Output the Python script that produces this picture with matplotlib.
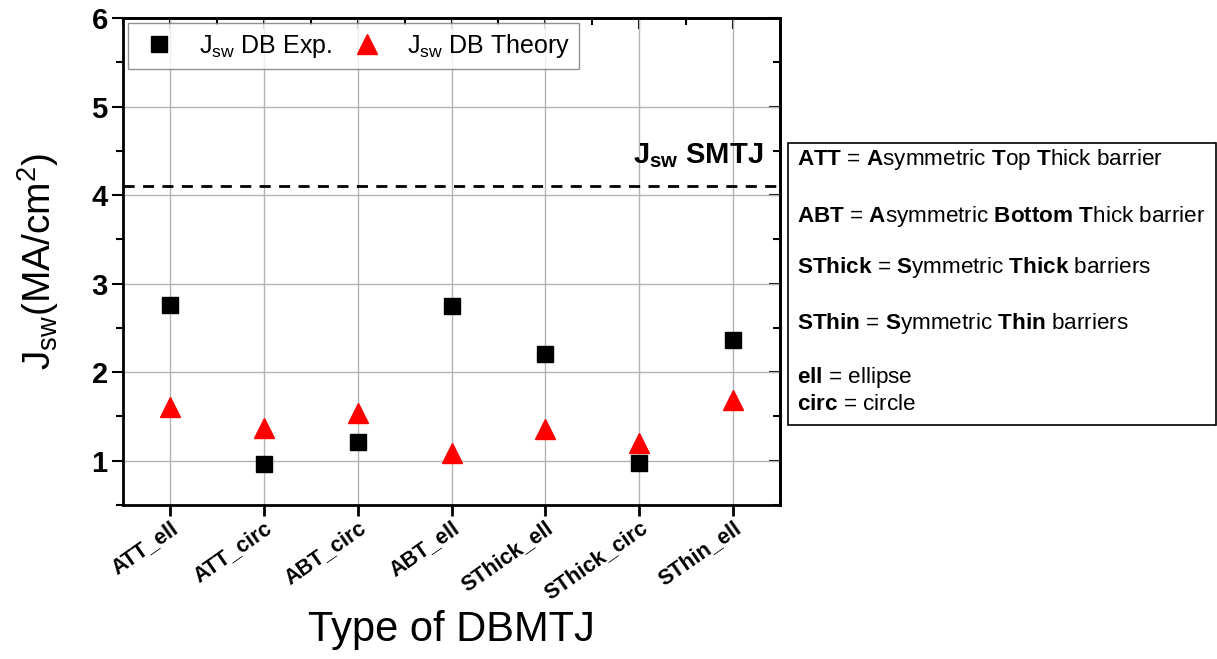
import matplotlib
matplotlib.use("Agg")
import matplotlib.pyplot as plt
from matplotlib.patches import Rectangle
from matplotlib.ticker import MultipleLocator

plt.rcParams['font.family'] = ['Liberation Sans', 'DejaVu Sans']
plt.rcParams['mathtext.fontset'] = 'custom'
plt.rcParams['mathtext.rm'] = 'Liberation Sans'
plt.rcParams['mathtext.it'] = 'Liberation Sans:italic'
plt.rcParams['mathtext.bf'] = 'Liberation Sans:bold'

# Data
types = ["ATT_ell", "ATT_circ", "ABT_circ", "ABT_ell", "SThick_ell", "SThick_circ", "SThin_ell"]
jsw_exp = [2.76, 0.96, 1.21, 2.75, 2.21, 0.97, 2.36]
jsw_theory = [1.61, 1.37, 1.54, 1.09, 1.36, 1.20, 1.69]
jsw_smtj = 4.1

x = list(range(1, len(types) + 1))

fig = plt.figure(figsize=(12.17, 6.59), dpi=100)
ax = fig.add_axes([123 / 1217, 1 - 505 / 659, 657 / 1217, 487 / 659])

ax.plot(x, jsw_exp, 's', color='black', markersize=11, zorder=4,
        label=r"J$_{\rm sw}$ DB Exp.")
ax.plot(x, jsw_theory, '^', color='red', markersize=14, zorder=4,
        label=r"J$_{\rm sw}$ DB Theory")

ax.axhline(jsw_smtj, color='black', linestyle=(0, (4, 3)), linewidth=2, zorder=3)
ax.text(7.32, 4.36, r"$\mathbf{J}_{\mathbf{sw}}$ SMTJ", ha='right', va='baseline',
        fontsize=21, fontweight='bold')

ax.set_xlim(0.5, 7.5)
ax.set_ylim(0.5, 6)
ax.set_xticks(x)
ax.set_xticklabels(types, rotation=35, ha='right', rotation_mode='anchor',
                   fontsize=15.5, fontweight='bold')
ax.set_yticks([1, 2, 3, 4, 5, 6])
ax.yaxis.set_minor_locator(MultipleLocator(0.5))
for lab in ax.get_yticklabels():
    lab.set_fontweight('bold')
    lab.set_fontsize(21)

ax.grid(True, which='major', color='#b4b4b4', linewidth=1)
ax.set_axisbelow(True)

ax.tick_params(axis='x', which='major', direction='out', length=8, width=2, pad=1)
ax.tick_params(axis='y', which='major', direction='out', length=8, width=1.5, pad=3)
ax.tick_params(axis='y', which='minor', direction='out', length=5, width=1.5)
for s in ax.spines.values():
    s.set_linewidth(2)

# inward ticks on top and right
top = ax.secondary_xaxis('top')
top.set_xticks(x)
top.xaxis.set_minor_locator(MultipleLocator(0.5))
top.tick_params(which='major', direction='in', length=8, width=1.5, labeltop=False)
top.tick_params(which='minor', direction='in', length=5, width=1.5)
top.spines['top'].set_linewidth(2)
right = ax.secondary_yaxis('right')
right.set_yticks([1, 2, 3, 4, 5, 6])
right.yaxis.set_minor_locator(MultipleLocator(0.5))
right.tick_params(which='major', direction='in', length=8, width=1.5, labelright=False)
right.tick_params(which='minor', direction='in', length=5, width=1.5)
right.spines['right'].set_linewidth(2)

ax.set_xlabel("Type of DBMTJ", fontsize=30, labelpad=4)
ax.set_ylabel(r"J$_{\rm sw}$(MA/cm$^2$)", fontsize=28, labelpad=22)

leg = ax.legend(loc='upper left', ncol=2, fontsize=18, frameon=True, fancybox=False,
                edgecolor='#777777', borderaxespad=0.2, handlelength=1.8,
                handletextpad=0.7, columnspacing=0.5, borderpad=0.35)
leg.get_frame().set_linewidth(1)

# definitions box on the right
fig.patches.append(Rectangle((788 / 1217, 1 - 425 / 659), 428 / 1217, 282 / 659,
                             transform=fig.transFigure, fill=False,
                             edgecolor='black', linewidth=1.2))
notes = [
    (160, r"$\mathbf{ATT}$ = $\mathbf{A}$symmetric $\mathbf{T}$op $\mathbf{T}$hick barrier"),
    (216, r"$\mathbf{ABT}$ = $\mathbf{A}$symmetric $\mathbf{Bottom}$ $\mathbf{T}$hick barrier"),
    (268, r"$\mathbf{SThick}$ = $\mathbf{S}$ymmetric $\mathbf{Thick}$ barriers"),
    (323, r"$\mathbf{SThin}$ = $\mathbf{S}$ymmetric $\mathbf{Thin}$ barriers"),
    (378, r"$\mathbf{ell}$ = ellipse"),
    (404, r"$\mathbf{circ}$ = circle"),
]
for ypix, txt in notes:
    fig.text(797 / 1217, 1 - ypix / 659, txt, ha='left', va='center', fontsize=16.2)

fig.savefig("out.png", dpi=100)
